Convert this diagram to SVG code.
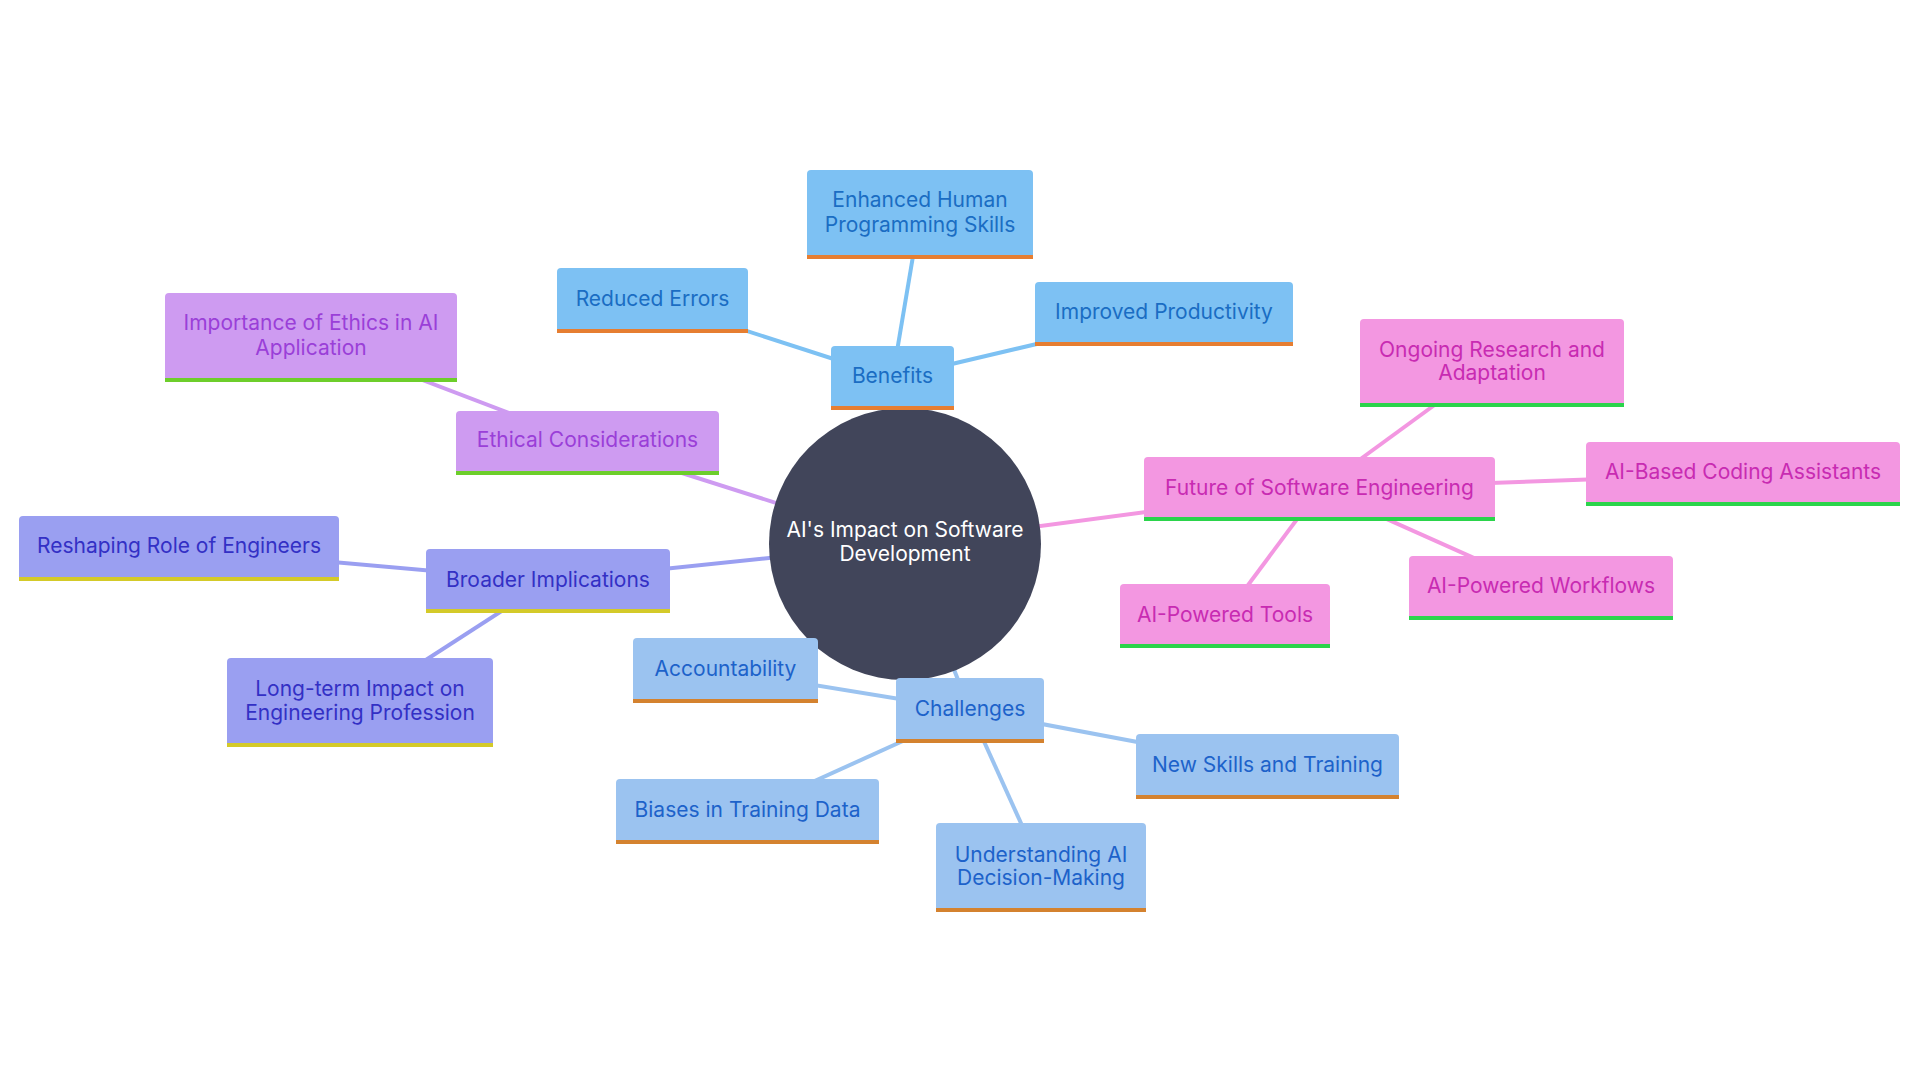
<svg xmlns="http://www.w3.org/2000/svg" width="1920" height="1080" viewBox="0 0 1920 1080">
<style>
text{font-family:Inter,"Noto Sans","Liberation Sans",sans-serif;font-size:21px;text-anchor:middle}
.c line{stroke-width:4;fill:none}
.b rect.f{fill:#7DC1F3}.b rect.u{fill:#E67E31}.b text{fill:#1A6DC3}
.h rect.f{fill:#9BC3F0}.h rect.u{fill:#D4822F}.h text{fill:#1D62CA}
.e rect.f{fill:#CE9BF1}.e rect.u{fill:#6DCE2B}.e text{fill:#9A3FD8}
.i rect.f{fill:#9A9FF1}.i rect.u{fill:#D4CA29}.i text{fill:#3330C5}
.s rect.f{fill:#F397E1}.s rect.u{fill:#2BD44B}.s text{fill:#C82BB2}
.lb{stroke:#7DC1F3}.lh{stroke:#9BC3F0}.le{stroke:#CE9BF1}.li{stroke:#9A9FF1}.ls{stroke:#F397E1}
</style>
<rect width="1920" height="1080" fill="#ffffff"/>
<g id="connectors" class="c">
<line class="lb" x1="905" y1="544" x2="892.5" y2="378"/>
<line class="lb" x1="892.5" y1="378" x2="920" y2="214.5"/>
<line class="lb" x1="892.5" y1="378" x2="652.5" y2="300.5"/>
<line class="lb" x1="892.5" y1="378" x2="1164" y2="314"/>
<line class="le" x1="905" y1="544" x2="587.5" y2="443"/>
<line class="le" x1="587.5" y1="443" x2="311" y2="337.5"/>
<line class="li" x1="905" y1="544" x2="548" y2="581"/>
<line class="li" x1="548" y1="581" x2="179" y2="548.5"/>
<line class="li" x1="548" y1="581" x2="360" y2="702.5"/>
<line class="lh" x1="905" y1="544" x2="970" y2="710.5"/>
<line class="lh" x1="970" y1="710.5" x2="725.5" y2="670.5"/>
<line class="lh" x1="970" y1="710.5" x2="747.5" y2="811.5"/>
<line class="lh" x1="970" y1="710.5" x2="1041" y2="867.5"/>
<line class="lh" x1="970" y1="710.5" x2="1267.5" y2="766.5"/>
<line class="ls" x1="905" y1="544" x2="1319.5" y2="489"/>
<line class="ls" x1="1319.5" y1="489" x2="1492" y2="363"/>
<line class="ls" x1="1319.5" y1="489" x2="1743" y2="474"/>
<line class="ls" x1="1319.5" y1="489" x2="1541" y2="588"/>
<line class="ls" x1="1319.5" y1="489" x2="1225" y2="616"/>
</g>
<g id="root">
<circle cx="905" cy="544" r="136" fill="#41455A"/>
<text x="905" y="537" fill="#ffffff">AI's Impact on Software</text>
<text x="905" y="561" fill="#ffffff">Development</text>
</g>
<g id="benefits" class="b"><rect class="f" x="831" y="346" width="123" height="64" rx="4"/><rect class="u" x="831" y="406" width="123" height="4"/><text x="892.5" y="383">Benefits</text></g>
<g id="enhanced" class="b"><rect class="f" x="807" y="170" width="226" height="89" rx="4"/><rect class="u" x="807" y="255" width="226" height="4"/><text x="920" y="207">Enhanced Human</text><text x="920" y="232">Programming Skills</text></g>
<g id="reduced-errors" class="b"><rect class="f" x="557" y="268" width="191" height="65" rx="4"/><rect class="u" x="557" y="329" width="191" height="4"/><text x="652.5" y="306">Reduced Errors</text></g>
<g id="improved-productivity" class="b"><rect class="f" x="1035" y="282" width="258" height="64" rx="4"/><rect class="u" x="1035" y="342" width="258" height="4"/><text x="1164" y="319">Improved Productivity</text></g>
<g id="ethical" class="e"><rect class="f" x="456" y="411" width="263" height="64" rx="4"/><rect class="u" x="456" y="471" width="263" height="4"/><text x="587.5" y="447">Ethical Considerations</text></g>
<g id="importance-ethics" class="e"><rect class="f" x="165" y="293" width="292" height="89" rx="4"/><rect class="u" x="165" y="378" width="292" height="4"/><text x="311" y="330">Importance of Ethics in AI</text><text x="311" y="355">Application</text></g>
<g id="broader" class="i"><rect class="f" x="426" y="549" width="244" height="64" rx="4"/><rect class="u" x="426" y="609" width="244" height="4"/><text x="548" y="587">Broader Implications</text></g>
<g id="reshaping" class="i"><rect class="f" x="19" y="516" width="320" height="65" rx="4"/><rect class="u" x="19" y="577" width="320" height="4"/><text x="179" y="553">Reshaping Role of Engineers</text></g>
<g id="long-term" class="i"><rect class="f" x="227" y="658" width="266" height="89" rx="4"/><rect class="u" x="227" y="743" width="266" height="4"/><text x="360" y="696">Long-term Impact on</text><text x="360" y="720">Engineering Profession</text></g>
<g id="challenges" class="h"><rect class="f" x="896" y="678" width="148" height="65" rx="4"/><rect class="u" x="896" y="739" width="148" height="4"/><text x="970" y="716">Challenges</text></g>
<g id="accountability" class="h"><rect class="f" x="633" y="638" width="185" height="65" rx="4"/><rect class="u" x="633" y="699" width="185" height="4"/><text x="725.5" y="676">Accountability</text></g>
<g id="biases" class="h"><rect class="f" x="616" y="779" width="263" height="65" rx="4"/><rect class="u" x="616" y="840" width="263" height="4"/><text x="747.5" y="817">Biases in Training Data</text></g>
<g id="understanding" class="h"><rect class="f" x="936" y="823" width="210" height="89" rx="4"/><rect class="u" x="936" y="908" width="210" height="4"/><text x="1041" y="862">Understanding AI</text><text x="1041" y="885">Decision-Making</text></g>
<g id="new-skills" class="h"><rect class="f" x="1136" y="734" width="263" height="65" rx="4"/><rect class="u" x="1136" y="795" width="263" height="4"/><text x="1267.5" y="772">New Skills and Training</text></g>
<g id="future" class="s"><rect class="f" x="1144" y="457" width="351" height="64" rx="4"/><rect class="u" x="1144" y="517" width="351" height="4"/><text x="1319.5" y="495">Future of Software Engineering</text></g>
<g id="ongoing" class="s"><rect class="f" x="1360" y="319" width="264" height="88" rx="4"/><rect class="u" x="1360" y="403" width="264" height="4"/><text x="1492" y="357">Ongoing Research and</text><text x="1492" y="380">Adaptation</text></g>
<g id="coding-assistants" class="s"><rect class="f" x="1586" y="442" width="314" height="64" rx="4"/><rect class="u" x="1586" y="502" width="314" height="4"/><text x="1743" y="479">AI-Based Coding Assistants</text></g>
<g id="workflows" class="s"><rect class="f" x="1409" y="556" width="264" height="64" rx="4"/><rect class="u" x="1409" y="616" width="264" height="4"/><text x="1541" y="593">AI-Powered Workflows</text></g>
<g id="tools" class="s"><rect class="f" x="1120" y="584" width="210" height="64" rx="4"/><rect class="u" x="1120" y="644" width="210" height="4"/><text x="1225" y="622">AI-Powered Tools</text></g>
</svg>
